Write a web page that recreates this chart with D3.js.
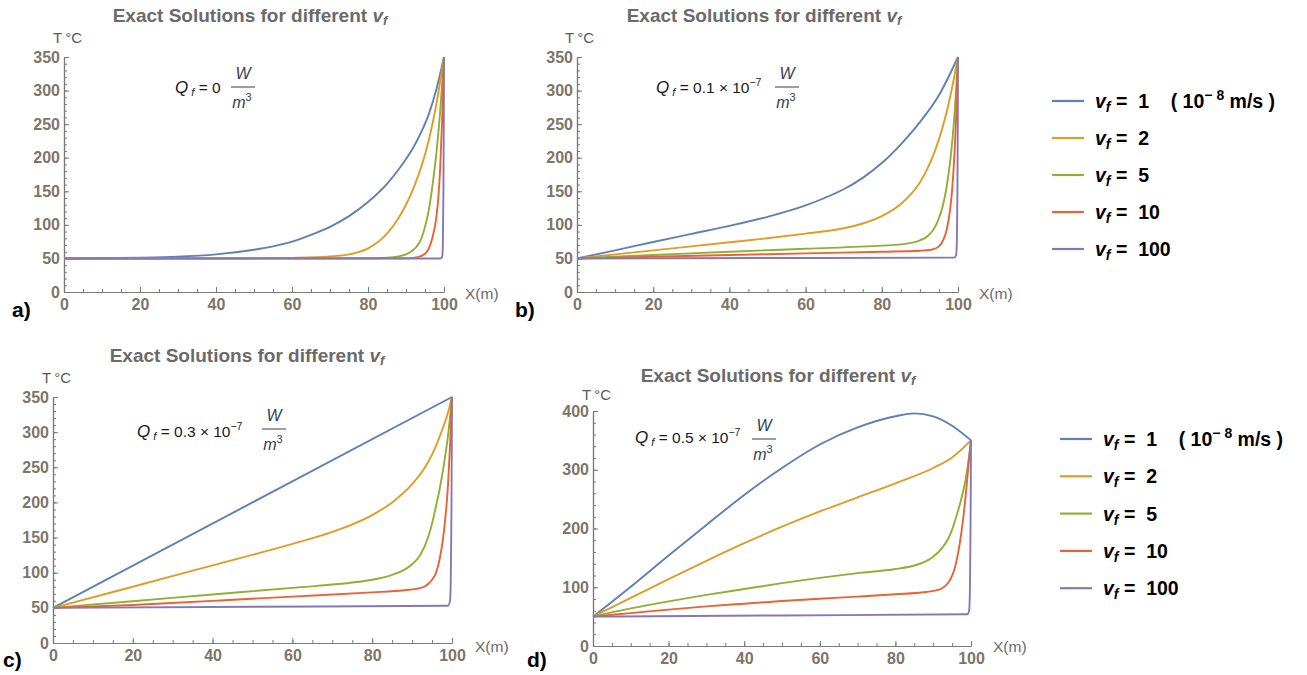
<!DOCTYPE html>
<html>
<head>
<meta charset="utf-8">
<script src="https://cdn.jsdelivr.net/npm/d3@7"></script>
<style>
  body { margin: 0; background: #fff; }
  text { font-family: "Liberation Sans", Arial, sans-serif; white-space: pre; }
</style>
</head>
<body>
<svg id="chart" width="1307" height="675"></svg>
<script>
// ---- values ----
const velocities = ["1", "2", "5", "10", "100"];
const colors = ["#5e81b5", "#e19c24", "#8fb032", "#eb6235", "#8778b3"];
const xTicks = [0, 20, 40, 60, 80, 100];
const yTicks350 = [0, 50, 100, 150, 200, 250, 300, 350];
const yTicks400 = [0, 100, 200, 300, 400];
const qMantissa = ["0", "0.1", "0.3", "0.5"];
const panelLetters = ["a)", "b)", "c)", "d)"];

// panel a : Qf = 0
const aV1 = [[0,50],[10,50.4],[20,51],[30,52.5],[40,56],[50,63],[55,68],[60,75],[65,85],[70,97],[75,113],[80,134],[85,161],[88,182],[90,198],[92,216],[94,238],[96,265],[98,302],[100,350]];
const aV2 = [[0,50],[50,50.1],[60,50.8],[70,53],[75,56],[80,65],[85,87],[88,110],[90,130],[92,155],[94,186],[96,226],[98,280],[100,350]];
const aV5 = [[0,50],[80,50.1],[85,51],[88,53],[90,56],[92,63],[93,69],[94,79],[95,97],[96,122],[97,160],[98,207],[99,270],[100,350]];
const aV10 = [[0,50],[90,50.2],[93,52],[95,57],[96,65],[97,82],[98,112],[98.5,140],[99,185],[99.5,255],[100,350]];
const aV100 = [[0,50],[99,50],[99.5,52],[99.7,70],[99.85,150],[99.95,260],[100,350]];

// panel b : Qf = 0.1e-7
const bV1 = [[0,50],[10,62],[20,74.5],[30,86.5],[40,98.5],[50,112],[60,129],[65,140],[70,153],[75,170],[80,192],[85,220],[90,253],[95,293],[100,350]];
const bV2 = [[0,50],[10,56],[20,62],[30,68],[40,74],[50,80],[60,87],[70,95],[75,102],[80,113],[85,131],[88,148],[90,163],[92,184],[94,211],[96,246],[98,292],[100,350]];
const bV5 = [[0,50],[20,55],[40,60],[60,64.5],[80,69],[85,71],[88,73.5],[90,77],[92,83],[94,97],[95,110],[96,128],[97,156],[98,197],[99,258],[100,350]];
const bV10 = [[0,50],[20,52.5],[40,55],[60,57.5],[80,60],[90,61.5],[93,63],[95,68],[96,76],[97,92],[98,126],[98.5,155],[99,198],[99.5,260],[100,350]];
const bV100 = [[0,50],[50,50.6],[99,51.2],[99.5,55],[99.7,75],[99.85,150],[99.95,260],[100,350]];

// panel c : Qf = 0.3e-7
const cV1 = [[0,50],[50,200],[100,350]];
const cV2 = [[0,50],[20,80],[40,110.5],[60,141],[70,158],[80,182],[85,200],[90,226],[93,248],[95,268],[97,295],[99,328],[100,350]];
const cV5 = [[0,50],[20,59.5],[40,69],[60,78.5],[75,86],[80,90],[85,97],[88,104],[90,112],[92,125],[94,150],[95,170],[96,195],[97,222],[98,255],[99,295],[100,350]];
const cV10 = [[0,50],[20,54],[40,60],[60,66],[80,72],[88,75],[91,77],[93,80],[94,84],[95,90],[96,100],[97,122],[98,160],[99,225],[99.5,280],[100,350]];
const cV100 = [[0,50],[50,51.5],[99,53],[99.5,60],[99.7,90],[99.85,180],[99.95,280],[100,350]];

// panel d : Qf = 0.5e-7
const dV1 = [[0,50],[10,101],[20,154],[30,206],[40,257],[50,303],[60,343],[70,372],[80,391],[85,396],[90,391],[95,375],[100,350]];
const dV2 = [[0,50],[10,82],[20,114],[30,145],[40,175],[50,203],[60,229],[70,253],[80,277],[90,303],[95,321],[100,350]];
const dV5 = [[0,50],[10,64],[20,76],[30,87],[40,97],[50,107],[60,116],[70,124],[80,131],[85,137],[88,144],[90,152],[92,164],[94,183],[95,198],[96,218],[97,240],[98,265],[99,300],[100,350]];
const dV10 = [[0,50],[10,56],[20,62],[30,67.5],[40,72],[50,76.5],[60,80.5],[70,84],[80,88],[88,92],[91,95],[93,101],[94.5,113],[95.5,128],[96.5,155],[97.5,195],[98.5,250],[99.3,305],[100,350]];
const dV100 = [[0,50],[50,52],[99,54],[99.5,60],[99.7,90],[99.85,180],[99.95,280],[100,350]];

// ---- layout (pixel positions only) ----
const panels = [
  { series: [aV1, aV2, aV5, aV10, aV100], ticks: yTicks350, ymax: 350, minorY: 10,
    x0: 64, x1: 444, y0: 292, y1: 57, title: [250, 22], tLabel: [53, 43], xLabel: [465, 299],
    letter: [12, 317], q: [175, 93], frac: [243, 87] },
  { series: [bV1, bV2, bV5, bV10, bV100], ticks: yTicks350, ymax: 350, minorY: 10,
    x0: 577, x1: 958, y0: 292, y1: 57, title: [764, 22], tLabel: [565, 43], xLabel: [979, 299],
    letter: [515, 317], q: [656, 93], frac: [787, 87] },
  { series: [cV1, cV2, cV5, cV10, cV100], ticks: yTicks350, ymax: 350, minorY: 10,
    x0: 53, x1: 452, y0: 643, y1: 397, title: [247, 362], tLabel: [42, 383], xLabel: [475, 652],
    letter: [3, 667], q: [137, 437], frac: [274, 429] },
  { series: [dV1, dV2, dV5, dV10, dV100], ticks: yTicks400, ymax: 400, minorY: 20,
    x0: 593, x1: 971, y0: 646, y1: 411, title: [778, 382], tLabel: [582, 400], xLabel: [993, 652],
    letter: [527, 667], q: [635, 443], frac: [764, 439] }
];

const svg = d3.select("#chart");
const axisColor = "#7a7a7a";
const tickText = "#807468";

function styleAxis(sel) {
  sel.select(".domain").attr("stroke", axisColor).attr("stroke-width", 1.2);
  sel.selectAll(".tick line").attr("stroke", axisColor);
  sel.selectAll(".tick text")
    .attr("fill", tickText)
    .attr("font-size", 16)
    .attr("font-weight", "bold")
    .attr("font-family", "'Liberation Sans', Arial, sans-serif");
}

panels.forEach((p, pi) => {
  const x = d3.scaleLinear().domain([0, 100]).range([p.x0, p.x1]);
  const y = d3.scaleLinear().domain([0, p.ymax]).range([p.y0, p.y1]);
  const g = svg.append("g");

  // minor ticks
  g.append("g").attr("transform", `translate(0,${p.y0})`)
    .call(d3.axisBottom(x).tickValues(d3.range(0, 101, 5)).tickSize(-3).tickSizeOuter(0).tickFormat(""))
    .call(styleAxis);
  g.append("g").attr("transform", `translate(${p.x0},0)`)
    .call(d3.axisLeft(y).tickValues(d3.range(0, p.ymax + 1, p.minorY)).tickSize(-3).tickSizeOuter(0).tickFormat(""))
    .call(styleAxis);

  // major ticks
  g.append("g").attr("transform", `translate(0,${p.y0})`)
    .call(d3.axisBottom(x).tickValues(xTicks).tickSize(-5).tickSizeOuter(0).tickPadding(7))
    .call(styleAxis);
  g.append("g").attr("transform", `translate(${p.x0},0)`)
    .call(d3.axisLeft(y).tickValues(p.ticks).tickSize(-5).tickSizeOuter(0).tickPadding(4))
    .call(styleAxis);

  // curves
  const line = d3.line().x(d => x(d[0])).y(d => y(d[1])).curve(d3.curveMonotoneX);
  p.series.forEach((s, i) => {
    g.append("path").datum(s)
      .attr("d", line)
      .attr("fill", "none")
      .attr("stroke", colors[i])
      .attr("stroke-width", 1.9)
      .attr("stroke-linejoin", "round");
  });

  // title
  const t = g.append("text").attr("x", p.title[0]).attr("y", p.title[1])
    .attr("text-anchor", "middle").attr("font-size", 19).attr("font-weight", "bold").attr("fill", "#6a6a6a");
  t.append("tspan").text("Exact Solutions for different ");
  t.append("tspan").attr("font-style", "italic").text("v");
  t.append("tspan").attr("font-style", "italic").attr("font-size", 13).attr("dy", 3).text("f");

  // axis labels
  g.append("text").attr("x", p.tLabel[0]).attr("y", p.tLabel[1])
    .attr("font-size", 15).attr("fill", "#5a5a5a").text("T\u2009°C");
  g.append("text").attr("x", p.xLabel[0]).attr("y", p.xLabel[1])
    .attr("font-size", 15.5).attr("fill", "#6a6a6a").text("X(m)");

  // panel letter
  g.append("text").attr("x", p.letter[0]).attr("y", p.letter[1])
    .attr("font-family", "'Liberation Serif', 'Times New Roman', serif")
    .attr("font-size", 21).attr("font-weight", "bold").attr("fill", "#000")
    .text(panelLetters[pi]);

  // Q annotation
  const q = g.append("text").attr("x", p.q[0]).attr("y", p.q[1])
    .attr("font-size", 15.5).attr("fill", "#1a1a1a");
  q.append("tspan").attr("font-style", "italic").attr("font-size", 17).text("Q");
  q.append("tspan").attr("font-style", "italic").attr("font-size", 11).attr("dy", 3).text(" f");
  if (qMantissa[pi] === "0") {
    q.append("tspan").attr("dy", -3).text(" = 0");
  } else {
    q.append("tspan").attr("dy", -3).text(" = " + qMantissa[pi] + " × 10");
    q.append("tspan").attr("font-size", 10.5).attr("dy", -7).text("−7");
  }
  const fx = p.frac[0], fy = p.frac[1];
  g.append("text").attr("x", fx).attr("y", fy - 8).attr("text-anchor", "middle")
    .attr("font-size", 16).attr("font-style", "italic").attr("fill", "#334155").text("W");
  g.append("line").attr("x1", fx - 12).attr("x2", fx + 12).attr("y1", fy).attr("y2", fy)
    .attr("stroke", "#334155").attr("stroke-width", 1);
  const m = g.append("text").attr("x", fx - 1).attr("y", fy + 21).attr("text-anchor", "middle")
    .attr("font-size", 16).attr("font-style", "italic").attr("fill", "#334155");
  m.append("tspan").text("m");
  m.append("tspan").attr("font-style", "normal").attr("font-size", 11).attr("dy", -7).text("3");
});

// legends
function drawLegend(lx, ly, gap) {
  const g = svg.append("g");
  velocities.forEach((v, i) => {
    const yy = ly + i * gap;
    g.append("line").attr("x1", lx).attr("x2", lx + 32).attr("y1", yy).attr("y2", yy)
      .attr("stroke", colors[i]).attr("stroke-width", 2.2);
    const t = g.append("text").attr("x", lx + 43).attr("y", yy + 7)
      .attr("font-size", 19.5).attr("font-weight", "bold").attr("fill", "#000");
    t.append("tspan").attr("font-style", "italic").text("v");
    t.append("tspan").attr("font-style", "italic").attr("font-size", 14).attr("dy", 4).text("f");
    t.append("tspan").attr("dy", -4).text(" =  " + v);
    if (i === 0) {
      t.append("tspan").text("    ( 10");
      t.append("tspan").attr("font-size", 14).attr("dy", -8).text("− 8");
      t.append("tspan").attr("dy", 8).text(" m/s )");
    }
  });
}
drawLegend(1052, 101, 37);
drawLegend(1060, 439, 37.3);
</script>
</body>
</html>
